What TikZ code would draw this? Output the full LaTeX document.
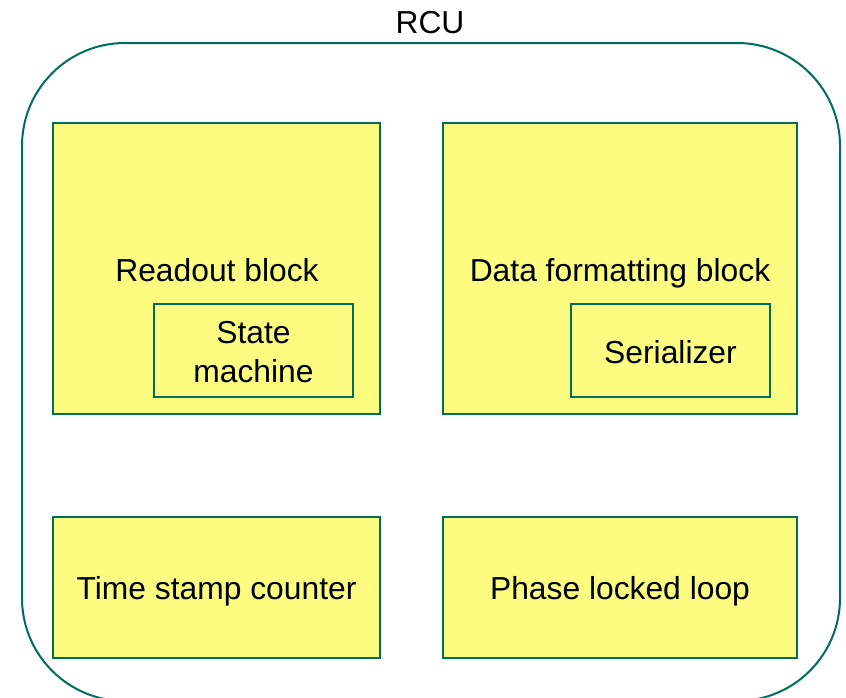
\documentclass[tikz,border=0pt]{standalone}
\usepackage{fontspec}
\setmainfont{Liberation Sans}
\definecolor{edge}{RGB}{0,110,90}
\definecolor{boxfill}{RGB}{252,252,128}
\begin{document}
\begin{tikzpicture}[x=1pt,y=-1pt,
  blockbox/.style={draw=edge,fill=boxfill,line width=2pt,inner sep=0pt},
  txt/.style={font=\fontsize{31.8}{39}\selectfont,anchor=base,inner sep=0pt,align=center}]
\useasboundingbox (0,0) rectangle (846,697);
\draw[draw=edge,line width=2pt,rounded corners=103pt] (22,43) rectangle (840,701);
\node[txt] (rcu) at (430,33) {RCU};
\node[blockbox,minimum width=327pt,minimum height=291pt] (readout) at (216.5,268.5) {};
\node[blockbox,minimum width=354pt,minimum height=291pt] (dfb) at (620,268.5) {};
\node[blockbox,minimum width=327pt,minimum height=141pt] (tsc) at (216.5,587.5) {};
\node[blockbox,minimum width=354pt,minimum height=141pt] (pll) at (620,587.5) {};
\node[blockbox,minimum width=199pt,minimum height=93pt] (sm) at (253.5,350.5) {};
\node[blockbox,minimum width=199pt,minimum height=93pt] (ser) at (670.5,350.5) {};
\node[txt] (readoutlbl) at (217,281) {Readout block};
\node[txt] (dfblbl) at (620,281) {Data formatting block};
\node[txt] (smlbl1) at (253.5,343) {State};
\node[txt] (smlbl2) at (253.5,382) {machine};
\node[txt] (serlbl) at (670.5,363) {Serializer};
\node[txt] (tsclbl) at (216.5,599) {Time stamp counter};
\node[txt] (plllbl) at (620,599) {Phase locked loop};
\end{tikzpicture}
\end{document}
